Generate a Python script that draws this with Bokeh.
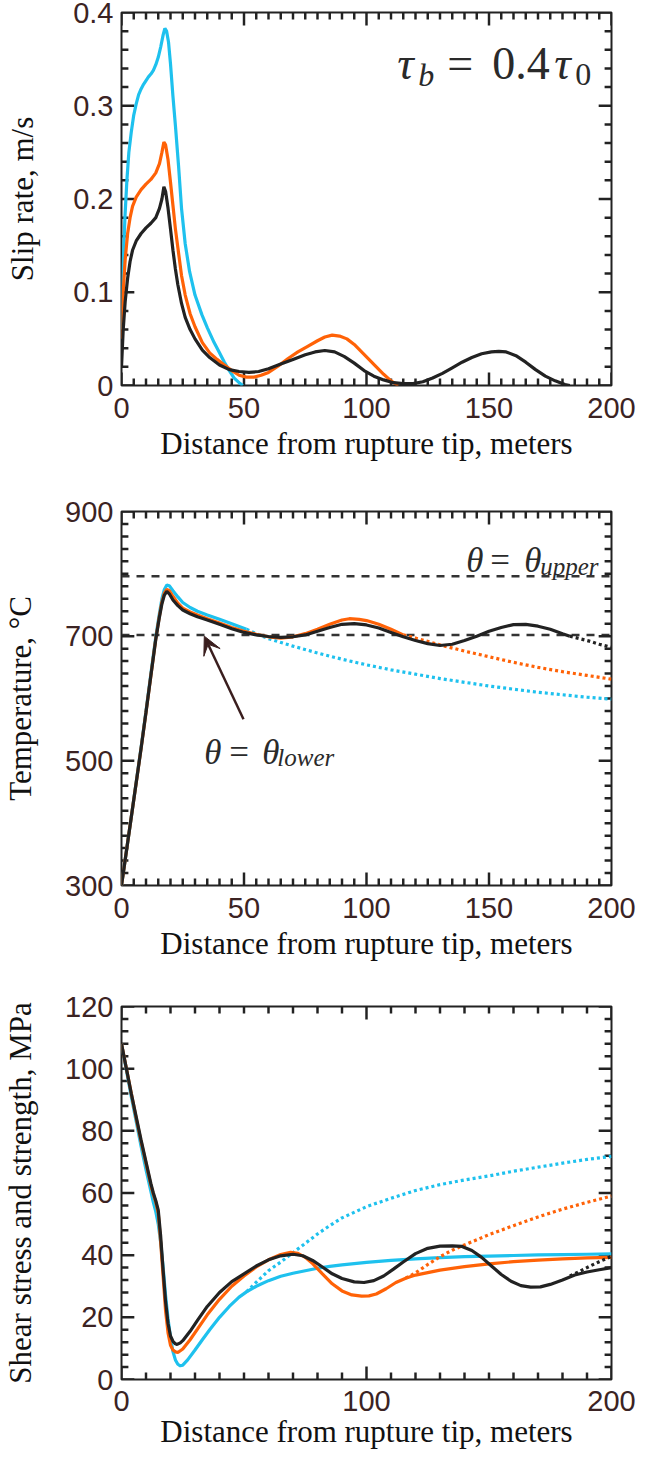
import numpy as np
from bokeh.plotting import figure
from bokeh.layouts import column
from bokeh.models import (Range1d, FixedTicker, CustomJSTickFormatter,
                          Label, Arrow, VeeHead, Span)
from bokeh.embed import file_html
from bokeh.resources import INLINE

CYAN = "#1ec1ee"
ORANGE = "#ff6207"
BLACK = "#222222"
FRAME = "#222222"
TICK_COLOR = "#3b2323"
TEXT_COLOR = "#2a2a2a"

X_TITLE = "Distance from rupture tip, meters"

# ---------------- Panel 1: slip rate (m/s) ----------------
slip_cyan_x = [0, 0.7, 1.4, 2.2, 3, 4, 5, 6, 7, 8, 9, 10, 11, 12, 13, 14, 15, 16, 17, 17.7,
               18.4, 19.2, 20, 21, 22, 23.3, 24.5, 26, 27.8, 30, 32.8, 35, 37.8, 40, 42, 44, 46, 48, 49.5]
slip_cyan_y = [0.06, 0.13, 0.18, 0.22, 0.25, 0.272, 0.29, 0.302, 0.312, 0.318, 0.323, 0.327, 0.331, 0.334,
               0.338, 0.344, 0.352, 0.363, 0.376, 0.383, 0.38, 0.368, 0.345, 0.31, 0.279, 0.235, 0.19, 0.152,
               0.122, 0.097, 0.076, 0.062, 0.046, 0.035, 0.025, 0.016, 0.008, 0.003, 0.0]

slip_orange_x = [0, 0.7, 1.5, 2.5, 3.5, 4.5, 6, 8, 10, 12, 14, 15.5, 16.5, 17.3, 18, 19, 20, 21, 22, 23,
                 24.5, 26, 28, 30, 33, 36, 39, 42, 45, 48, 51, 54, 57, 60, 64, 68, 72, 76, 80, 83,
                 86, 89, 92, 95, 98, 101, 104, 107, 110, 113]
slip_orange_y = [0.05, 0.1, 0.135, 0.163, 0.18, 0.192, 0.202, 0.21, 0.216, 0.221, 0.228, 0.238, 0.25, 0.261,
                 0.258, 0.242, 0.218, 0.193, 0.168, 0.148, 0.118, 0.097, 0.077, 0.063, 0.046, 0.035, 0.028,
                 0.022, 0.016, 0.011, 0.009, 0.009, 0.011, 0.014, 0.021, 0.029, 0.036, 0.042, 0.048, 0.052,
                 0.054, 0.053, 0.05, 0.044, 0.036, 0.028, 0.02, 0.012, 0.005, 0.0]

slip_black_x = [0, 0.7, 1.5, 2.5, 3.5, 4.5, 6, 8, 10, 12, 14, 15.5, 16.5, 17.3, 18, 19, 20, 21, 22, 23,
                24.5, 26, 28, 30, 33, 36, 40, 44, 48, 52, 56, 60, 65, 70, 75, 79, 83, 87, 91, 95,
                99, 103, 107, 111, 115, 119, 123, 127, 131, 135, 139, 143, 147, 151, 154, 157, 161, 165,
                169, 173, 177, 181, 183]
slip_black_y = [0.02, 0.06, 0.09, 0.115, 0.133, 0.145, 0.155, 0.163, 0.169, 0.174, 0.18, 0.19, 0.2, 0.213,
                0.208, 0.19, 0.168, 0.145, 0.125, 0.108, 0.088, 0.073, 0.06, 0.05, 0.038, 0.03, 0.022,
                0.017, 0.015, 0.014, 0.015, 0.018, 0.023, 0.028, 0.033, 0.036, 0.0375, 0.036, 0.031,
                0.024, 0.016, 0.01, 0.006, 0.003, 0.002, 0.002, 0.004, 0.008, 0.013, 0.019, 0.025, 0.03,
                0.034, 0.036, 0.0365, 0.036, 0.032, 0.025, 0.017, 0.01, 0.005, 0.001, 0.0]

# ---------------- Panel 2: temperature (°C) ----------------
temp_cyan_x = [0, 2, 4, 6, 8, 10, 12, 14, 15.5, 16.5, 17.5, 18.5, 19.5, 21, 23, 25, 28, 31, 35, 40, 45, 51]
temp_cyan_y = [300, 355, 410, 466, 522, 580, 640, 699, 737, 760, 775, 782, 781, 773, 763, 754, 746, 740,
               734, 727, 720, 711]
temp_cyan_dot_x = [51, 55, 60, 70, 80, 90, 100, 110, 120, 130, 140, 150, 160, 170, 180, 190, 200]
temp_cyan_dot_y = [711, 704, 696, 684, 673, 663, 654, 646, 639, 632, 626, 620, 615, 610, 606, 602, 599]

temp_orange_x = [0, 2, 4, 6, 8, 10, 12, 14, 15.5, 16.5, 17.5, 18.5, 19.5, 21, 23, 25, 28, 31, 35, 40,
                 45, 50, 55, 60, 65, 70, 75, 80, 85, 90, 93, 97, 100, 105, 110, 115]
temp_orange_y = [300, 355, 410, 465, 520, 578, 637, 696, 733, 755, 769, 775, 773, 764, 753, 745, 739, 734,
                 728, 721, 714, 708, 703, 699, 697, 699, 704, 711, 719, 726, 728, 727, 725, 719, 711, 702]
temp_orange_dot_x = [115, 120, 130, 140, 150, 160, 170, 180, 190, 200]
temp_orange_dot_y = [702, 697, 686, 676, 667, 658, 650, 643, 637, 631]

temp_black_x = [0, 2, 4, 6, 8, 10, 12, 14, 15.5, 16.5, 17.5, 18.5, 19.5, 21, 23, 25, 28, 31, 35, 40,
                45, 50, 55, 60, 65, 70, 75, 80, 85, 90, 95, 100, 105, 110, 115, 120, 125, 130, 135, 140,
                145, 150, 155, 160, 165, 170, 175, 180, 183]
temp_black_y = [300, 355, 410, 465, 520, 578, 637, 695, 731, 752, 766, 772, 768, 758, 749, 742, 736, 731,
                726, 719, 712, 706, 702, 699.5, 698, 699, 702, 708, 714, 719, 720, 718, 713, 706, 699, 693,
                688, 685, 687, 693, 700, 708, 714, 718.5, 719, 716, 711, 704, 700]
temp_black_dot_x = [183, 187, 191, 195, 200]
temp_black_dot_y = [700, 696, 692, 687, 682]

theta_lower = 702
theta_upper = 796

# ---------------- Panel 3: shear stress and strength (MPa) ----------------
stress_cyan_x = [0, 2, 4, 6, 8, 10, 12, 13, 14, 15, 16, 17, 18, 19, 20, 21, 22, 23, 24, 25, 27, 30, 33,
                 36, 40, 44, 48, 51, 55, 60, 65, 70, 75, 80, 85, 90, 100, 110, 120, 130, 140, 150, 160,
                 170, 180, 190, 200]
stress_cyan_y = [108, 99.5, 91, 83, 75, 67.5, 60.5, 57, 54, 50, 44, 36, 27, 19.5, 13.5, 9, 6.3, 4.9, 4.4,
                 4.6, 6.3, 9.5, 12.8, 16, 20, 23.5, 26.5, 28.2, 30, 31.8, 33.2, 34.2, 35, 35.8, 36.4, 36.9,
                 37.7, 38.3, 38.8, 39.2, 39.5, 39.7, 39.9, 40.1, 40.2, 40.3, 40.4]
stress_cyan_dot_x = [51, 55, 60, 65, 70, 75, 80, 85, 90, 100, 110, 120, 130, 140, 150, 160, 170, 180, 190, 200]
stress_cyan_dot_y = [28.2, 31.3, 35, 37.8, 40.8, 43.8, 46.8, 49.5, 52, 55.6, 58.3, 60.8, 62.7, 64.2, 65.5,
                     67, 68.3, 69.6, 70.8, 71.8]

stress_orange_x = [0, 2, 4, 6, 8, 10, 12, 13, 14, 15, 16, 17, 18, 19, 20, 21, 22, 23, 25, 28, 31, 35, 40,
                   45, 50, 55, 60, 65, 69, 72, 75, 78, 82, 86, 90, 94, 98, 101, 104, 108, 112, 116, 120,
                   130, 140, 150, 160, 170, 180, 190, 200]
stress_orange_y = [108, 100, 92, 84, 76.5, 69.5, 62.5, 59.5, 57, 53.5, 44, 33, 22, 15, 11, 9.5, 8.9, 8.7,
                   9.8, 12.8, 16.2, 20.8, 25.8, 30, 33.3, 36.2, 38.5, 40.2, 40.9, 40.6, 39.3, 37.3, 34,
                   30.8, 28.5, 27.2, 26.8, 26.9, 27.5, 29.2, 31.2, 32.6, 33.6, 35.2, 36.3, 37.2, 37.9,
                   38.4, 38.8, 39.1, 39.3]
stress_orange_dot_x = [116, 120, 125, 130, 135, 140, 150, 160, 170, 180, 190, 200]
stress_orange_dot_y = [32.6, 34.3, 37, 39.5, 41.6, 43.3, 46.6, 49.5, 52.3, 54.8, 57, 59]

stress_black_x = [0, 2, 4, 6, 8, 10, 12, 13, 14, 15, 16, 17, 18, 19, 20, 21, 22, 22.7, 24, 25, 28, 31,
                  35, 40, 45, 50, 55, 60, 65, 70, 74, 78, 82, 86, 90, 95, 99, 103, 107, 111, 115, 120,
                  125, 130, 135, 139, 143, 147, 151, 155, 159, 163, 167, 171, 175, 180, 185, 190, 195, 200]
stress_black_y = [108, 100, 92, 84.5, 77, 70, 63, 60, 57.5, 54.5, 46, 35, 25, 18, 14, 12.3, 11.5, 11.3,
                  11.8, 12.5, 15.5, 19, 23.5, 28, 31.5, 34, 36.5, 38.5, 39.8, 40.3, 39.8, 38.3, 36.2, 34,
                  32.5, 31.4, 31.2, 31.8, 33.3, 35.5, 37.8, 40.5, 42.2, 42.9, 43, 42.8, 41.5, 39.3, 36.5,
                  33.8, 31.6, 30.2, 29.7, 29.8, 30.6, 32, 33.6, 34.6, 35.3, 36]
stress_black_dot_x = [183, 187, 191, 195, 200]
stress_black_dot_y = [33.3, 34.8, 36.4, 37.9, 39.6]

# tick definitions
x_ticks_50 = [0, 50, 100, 150, 200]
x_ticks_100 = [0, 100, 200]
slip_ticks = [0, 0.1, 0.2, 0.3, 0.4]
temp_ticks = [300, 500, 700, 900]
stress_ticks = [0, 20, 40, 60, 80, 100, 120]

FIG_W = 640
BORDER_L = 114
BORDER_R = 29
FRAME_W = FIG_W - BORDER_L - BORDER_R
MAJOR_LEN = 13
MINOR_LEN = 7
TICK_W = 2.5


def minor(lo, hi, step, major):
    vals = [float(v) for v in np.round(np.arange(lo, hi + step / 2, step), 6)]
    return [v for v in vals if all(abs(v - m) > 1e-9 for m in major)]


def style_axis(ax, major, standoff):
    ax.ticker = FixedTicker(ticks=major)
    ax.axis_line_color = None
    ax.major_tick_line_color = None
    ax.minor_tick_line_color = None
    ax.major_tick_in = 0
    ax.major_tick_out = 0
    ax.minor_tick_in = 0
    ax.minor_tick_out = 0
    ax.major_label_text_font = "Liberation Sans"
    ax.major_label_text_font_size = "29px"
    ax.major_label_text_color = TICK_COLOR
    ax.major_label_standoff = standoff


def style_title(ax, text, standoff):
    ax.axis_label = text
    ax.axis_label_text_font = "Liberation Serif"
    ax.axis_label_text_font_style = "normal"
    ax.axis_label_text_font_size = "31px"
    ax.axis_label_text_color = "#111111"
    ax.axis_label_standoff = standoff


def inward_ticks(p, y_lo, y_hi, frame_h, xt, xminor, yt, yminor):
    # tick marks on all four frame edges, pointing into the plot area (thin filled bars)
    ux = 200.0 / FRAME_W
    uy = (y_hi - y_lo) / frame_h
    hx = TICK_W / 2 * ux
    hy = TICK_W / 2 * uy
    for ticks, L in ((xt, MAJOR_LEN), (xminor, MINOR_LEN)):
        n = len(ticks)
        left = [t - hx for t in ticks]
        right = [t + hx for t in ticks]
        p.quad(left=left, right=right, bottom=[y_lo] * n, top=[y_lo + L * uy] * n,
               fill_color=FRAME, line_color=None)
        p.quad(left=left, right=right, bottom=[y_hi - L * uy] * n, top=[y_hi] * n,
               fill_color=FRAME, line_color=None)
    for ticks, L in ((yt, MAJOR_LEN), (yminor, MINOR_LEN)):
        n = len(ticks)
        bottom = [t - hy for t in ticks]
        top = [t + hy for t in ticks]
        p.quad(left=[0] * n, right=[L * ux] * n, bottom=bottom, top=top,
               fill_color=FRAME, line_color=None)
        p.quad(left=[200 - L * ux] * n, right=[200] * n, bottom=bottom, top=top,
               fill_color=FRAME, line_color=None)


def make_panel(height, top, bottom, y_lo, y_hi, xt, xminor, yt, yminor, ytitle,
               y_title_standoff, x_title_standoff, x_label_standoff=12, yformatter=None):
    p = figure(width=FIG_W, height=height, x_range=Range1d(0, 200), y_range=Range1d(y_lo, y_hi),
               output_backend="svg", toolbar_location=None,
               min_border_left=BORDER_L, min_border_right=BORDER_R,
               min_border_top=top, min_border_bottom=bottom)
    p.grid.visible = False
    p.outline_line_color = FRAME
    p.outline_line_width = 2
    p.background_fill_color = "white"
    p.border_fill_color = "white"
    bx = p.below[0]
    ly = p.left[0]
    style_axis(bx, xt, x_label_standoff)
    style_axis(ly, yt, 8)
    if yformatter is not None:
        ly.formatter = yformatter
    style_title(bx, X_TITLE, x_title_standoff)
    style_title(ly, ytitle, y_title_standoff)
    inward_ticks(p, y_lo, y_hi, height - top - bottom, xt, xminor, yt, yminor)
    return p


def tex(p, x, y, pieces):
    for text, dx, dy, size, italic in pieces:
        p.add_layout(Label(x=x, y=y, x_offset=dx, y_offset=dy, text=text,
                           text_font="Liberation Serif", text_font_size=f"{size}px",
                           text_font_style="italic" if italic else "normal",
                           text_color=TEXT_COLOR, text_baseline="alphabetic", text_align="left"))


LW = 3.2
DOT = "3 3"

# ---- Panel 1 ----
p1 = make_panel(485, 12, 100, 0, 0.4, x_ticks_50, minor(0, 200, 5, x_ticks_50),
                slip_ticks, minor(0, 0.4, 0.02, slip_ticks),
                "Slip rate, m/s", 30, 5,
                yformatter=CustomJSTickFormatter(code="return tick == 0 ? '0' : tick.toFixed(1);"))
p1.line(slip_cyan_x, slip_cyan_y, line_color=CYAN, line_width=LW)
p1.line(slip_orange_x, slip_orange_y, line_color=ORANGE, line_width=LW)
p1.line(slip_black_x, slip_black_y, line_color=BLACK, line_width=LW)
tex(p1, 112.6, 0.345, [("τ", 0, 0, 46, True), ("b", 21, -11, 32, True), ("=", 50, 0, 46, False),
                       ("0.4", 95, 0, 46, False), ("τ", 157, 0, 46, True), ("0", 178, -11, 32, False)])

# ---- Panel 2 ----
p2 = make_panel(492, 26, 92, 300, 900, x_ticks_50, minor(0, 200, 5, x_ticks_50),
                temp_ticks, minor(300, 900, 20, temp_ticks),
                "Temperature, °C", 24, 5)
for loc in (theta_upper, theta_lower):
    p2.add_layout(Span(location=loc, dimension="width", line_color="#333333", line_width=2.5,
                       line_dash="8 7", level="underlay"))
p2.line(temp_cyan_x, temp_cyan_y, line_color=CYAN, line_width=LW)
p2.line(temp_cyan_dot_x, temp_cyan_dot_y, line_color=CYAN, line_width=LW, line_dash=DOT)
p2.line(temp_orange_x, temp_orange_y, line_color=ORANGE, line_width=LW)
p2.line(temp_orange_dot_x, temp_orange_dot_y, line_color=ORANGE, line_width=LW, line_dash=DOT)
p2.line(temp_black_x, temp_black_y, line_color=BLACK, line_width=LW)
p2.line(temp_black_dot_x, temp_black_dot_y, line_color=BLACK, line_width=LW, line_dash=DOT)
tex(p2, 140.7, 822, [("θ", 0, 0, 35, True), ("=", 24, 0, 35, False), ("θ", 58, 0, 35, True),
                     ("upper", 74, -6, 25, True)])
tex(p2, 33.8, 513, [("θ", 0, 0, 35, True), ("=", 25, 0, 35, False), ("θ", 58, 0, 35, True),
                    ("lower", 73, -5, 25, True)])
p2.add_layout(Arrow(end=VeeHead(size=18, fill_color="#3a1e1e", line_color="#3a1e1e"),
                    x_start=49.8, y_start=566.8, x_end=33.8, y_end=700,
                    line_color="#3a1e1e", line_width=2.5))

# ---- Panel 3 ----
p3 = make_panel(478, 29, 76, 0, 120, x_ticks_100, minor(0, 200, 10, x_ticks_100),
                stress_ticks, minor(0, 120, 4, stress_ticks),
                "Shear stress and strength, MPa", 24, 0, x_label_standoff=11)
p3.line(stress_cyan_x, stress_cyan_y, line_color=CYAN, line_width=LW)
p3.line(stress_cyan_dot_x, stress_cyan_dot_y, line_color=CYAN, line_width=LW, line_dash=DOT)
p3.line(stress_orange_x, stress_orange_y, line_color=ORANGE, line_width=LW)
p3.line(stress_orange_dot_x, stress_orange_dot_y, line_color=ORANGE, line_width=LW, line_dash=DOT)
p3.line(stress_black_x, stress_black_y, line_color=BLACK, line_width=LW)
p3.line(stress_black_dot_x, stress_black_dot_y, line_color=BLACK, line_width=LW, line_dash=DOT)

layout = column(p1, p2, p3, spacing=0)
open("out.html", "w").write(file_html(layout, INLINE))
